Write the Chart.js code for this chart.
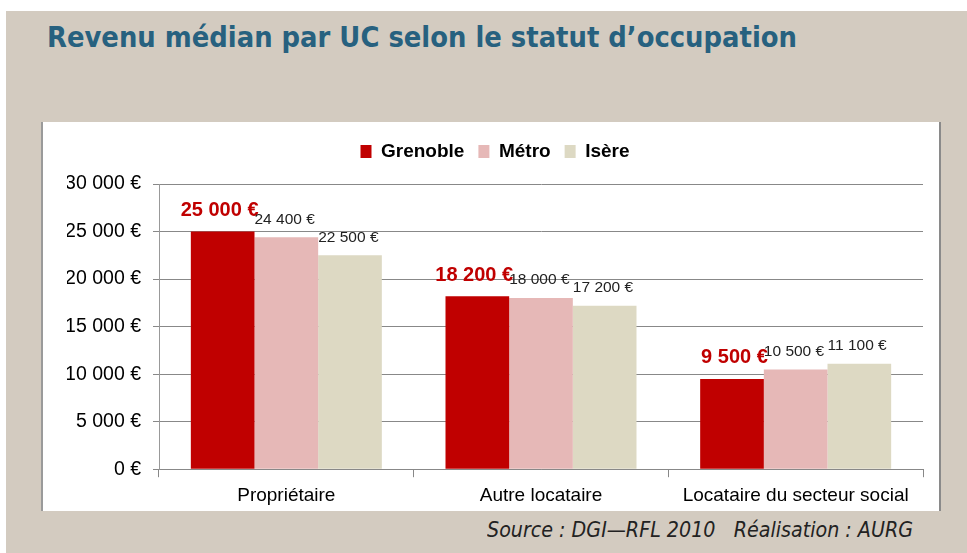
<!DOCTYPE html>
<html>
<head>
<meta charset="utf-8">
<script src="https://cdn.jsdelivr.net/npm/chart.js@4"></script>
<style>
html,body{margin:0;padding:0;}
body{width:967px;height:553px;background:#ffffff;position:relative;overflow:hidden;font-family:"Liberation Sans",Arial,sans-serif;}
#bg{position:absolute;left:6px;top:11px;width:961px;height:542px;background:#d3cbc0;}
#title{position:absolute;left:47px;top:20px;font-family:"DejaVu Sans",sans-serif;font-weight:bold;font-size:29px;color:#27617f;white-space:nowrap;transform-origin:0 0;}
#box{position:absolute;left:41px;top:122px;width:896px;height:389px;background:#fff;border-left:2px solid #9a9a9a;border-right:2px solid #8a8a8a;overflow:visible;}
#src{position:absolute;left:487px;top:518px;font-family:"DejaVu Sans",sans-serif;font-style:italic;font-size:21px;color:#222;white-space:pre;transform-origin:0 0;}
canvas{display:block;}
</style>
</head>
<body>
<div id="bg"></div>
<div id="title">Revenu médian par UC selon le statut d’occupation</div>
<div id="box"><canvas id="c" width="896" height="392"></canvas></div>
<div id="src">Source : DGI—RFL 2010   Réalisation : AURG</div>
<script>
const categories = ["Propriétaire", "Autre locataire", "Locataire du secteur social"];
const seriesNames = ["Grenoble", "Métro", "Isère"];
const grenoble = [25000, 18200, 9500];
const metro = [24400, 18000, 10500];
const isere = [22500, 17200, 11100];
const yTicks = [0, 5000, 10000, 15000, 20000, 25000, 30000];
const colors = ["#c00000", "#e6b8b7", "#ddd9c3"];

function fmt(v){
  return String(v).replace(/\B(?=(\d{3})+(?!\d))/g, " ") + " €";
}

function fitWidth(id, target){
  const el = document.getElementById(id);
  const w = el.getBoundingClientRect().width;
  el.style.transform = "scaleX(" + (target / w) + ")";
}
fitWidth("title", 750);
fitWidth("src", 426);

const legendSpace = {
  id: "legendSpace",
  beforeInit(chart){
    const lg = chart.legend;
    if (lg){
      const orig = lg.fit;
      lg.fit = function(){ orig.call(this); this.height += 13; };
    }
  }
};

const labelPlugin = {
  id: "barLabels",
  afterDatasetsDraw(chart){
    const ctx = chart.ctx;
    chart.data.datasets.forEach((ds, di) => {
      const meta = chart.getDatasetMeta(di);
      meta.data.forEach((bar, i) => {
        const v = ds.data[i];
        ctx.save();
        ctx.textBaseline = "middle";
        if (di === 0){
          ctx.font = "bold 20px 'Liberation Sans', Arial, sans-serif";
          ctx.fillStyle = "#c00000";
          ctx.textAlign = "right";
          ctx.fillText(fmt(v), bar.x + bar.width / 2 + 4, bar.y - 21);
        } else {
          ctx.font = "15.5px 'Liberation Sans', Arial, sans-serif";
          ctx.fillStyle = "#222";
          ctx.textAlign = "left";
          ctx.fillText(fmt(v), bar.x - bar.width / 2, bar.y - 18);
        }
        ctx.restore();
      });
    });
  }
};

new Chart(document.getElementById("c"), {
  type: "bar",
  data: {
    labels: categories,
    datasets: [
      {label: seriesNames[0], data: grenoble, backgroundColor: colors[0]},
      {label: seriesNames[1], data: metro, backgroundColor: colors[1]},
      {label: seriesNames[2], data: isere, backgroundColor: colors[2]}
    ]
  },
  options: {
    responsive: false,
    animation: false,
    layout: {padding: {left: 24, right: 16, top: 6, bottom: 0}},
    datasets: {bar: {categoryPercentage: 0.75, barPercentage: 1.0}},
    plugins: {
      legend: {
        position: "top",
        labels: {
          boxWidth: 11, boxHeight: 13,
          padding: 14,
          color: "#000",
          font: {family: "'Liberation Sans', Arial, sans-serif", size: 19, weight: "bold"}
        }
      },
      tooltip: {enabled: false}
    },
    scales: {
      x: {
        grid: {display: true, drawOnChartArea: false, drawTicks: true, tickLength: 8, color: "#888", offset: true},
        border: {display: true, color: "#888", width: 1},
        ticks: {color: "#000", padding: 7, font: {family: "'Liberation Sans', Arial, sans-serif", size: 19}}
      },
      y: {
        min: 0, max: 30000,
        afterFit(s){ s.width = 92; },
        afterBuildTicks(s){ s.ticks = yTicks.map(v => ({value: v})); },
        grid: {color: "#888", tickLength: 6, lineWidth: 1},
        border: {display: true, color: "#999", width: 1},
        ticks: {color: "#000", padding: 12, callback: v => fmt(v), font: {family: "'Liberation Sans', Arial, sans-serif", size: 19.5}}
      }
    }
  },
  plugins: [legendSpace, labelPlugin]
});
</script>
</body>
</html>
